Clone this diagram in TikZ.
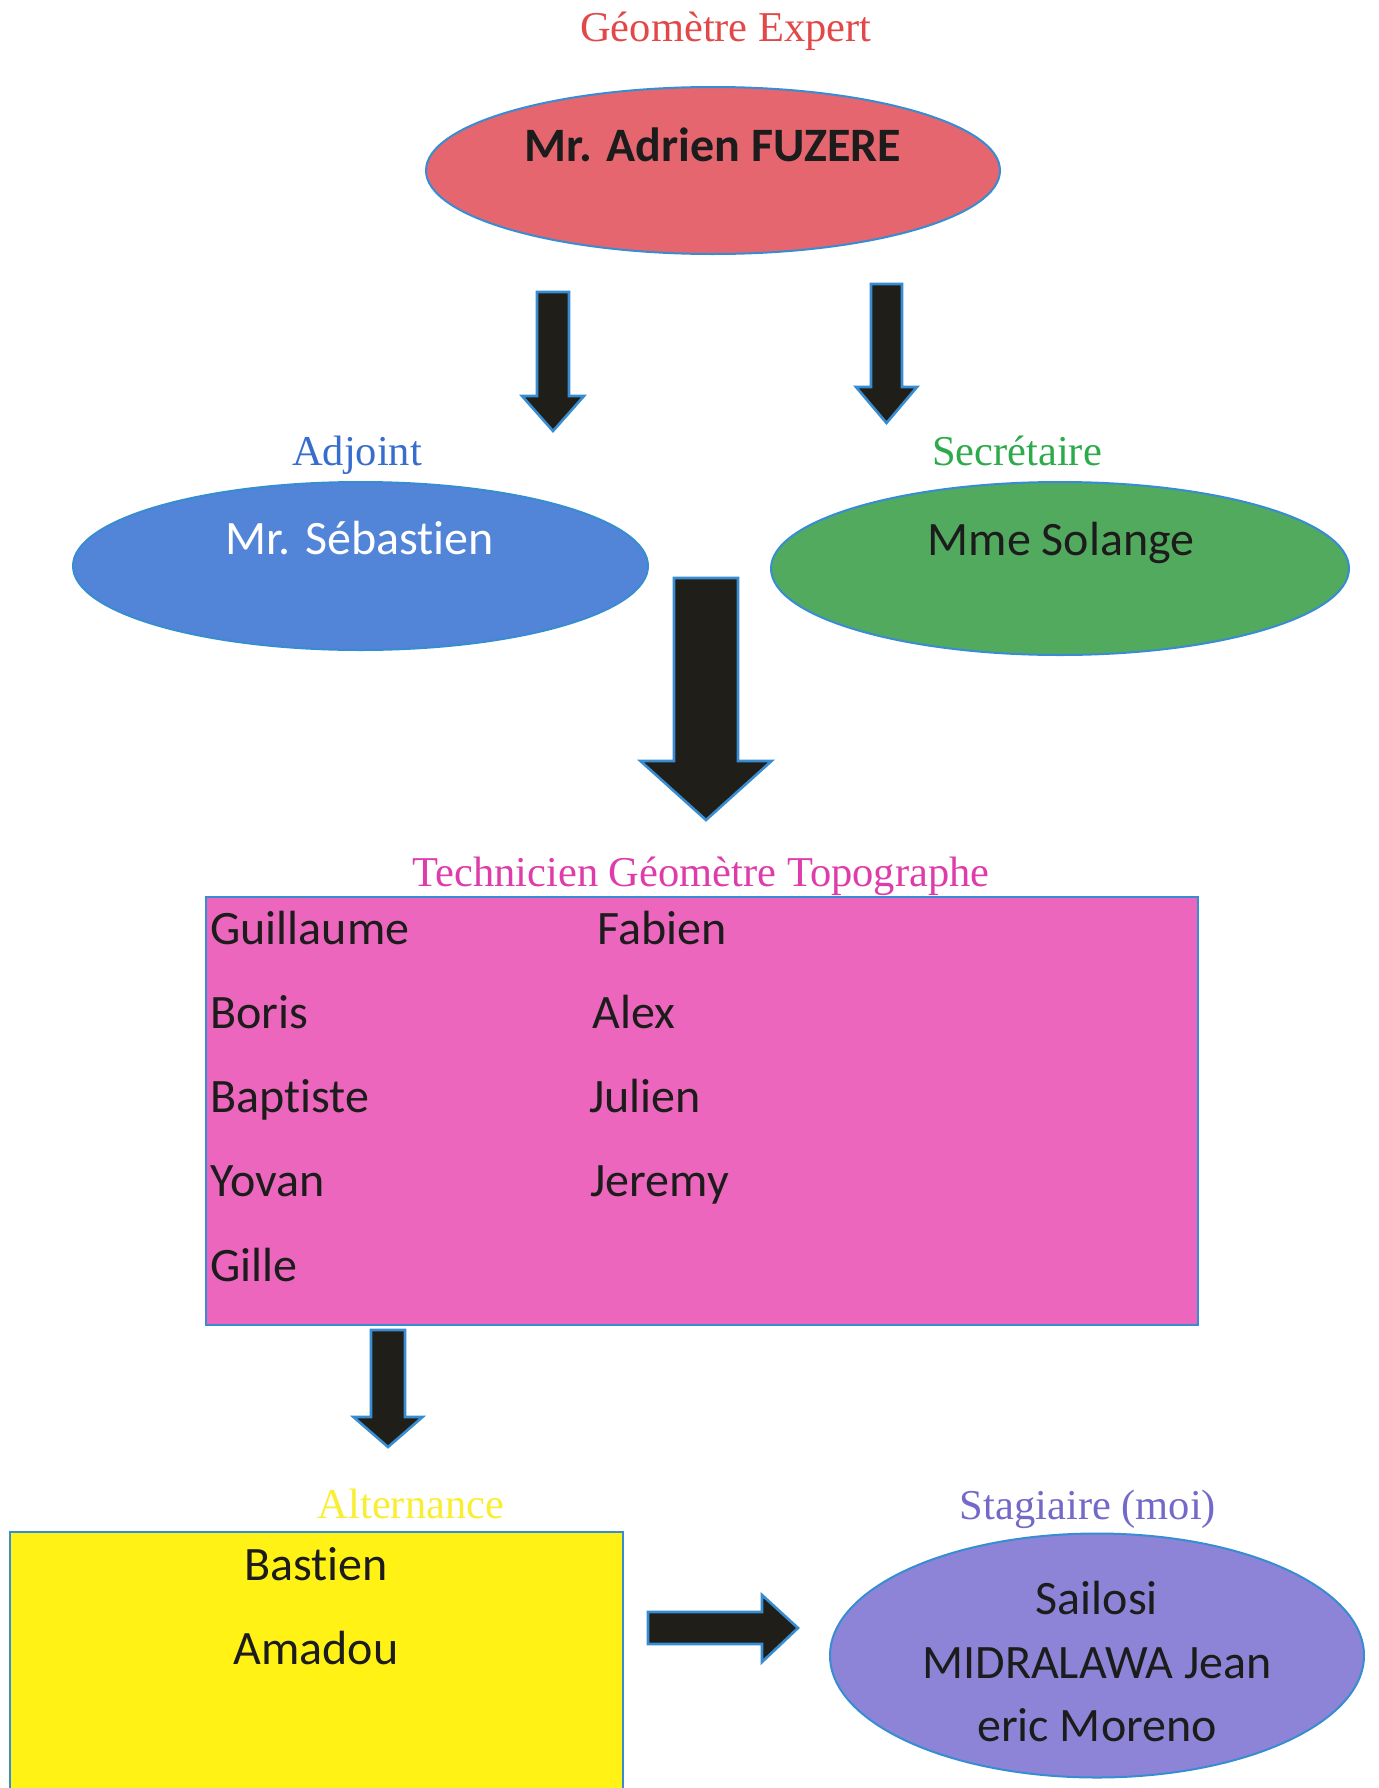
\documentclass[tikz,border=0pt]{standalone}
\usepackage{fontspec}
\setmainfont[Ligatures=NoCommon]{Carlito}
\newfontfamily\titlefont{Liberation Serif}
\usetikzlibrary{shapes.geometric}
\definecolor{tred}{RGB}{226,72,72}
\definecolor{tblue}{RGB}{55,110,205}
\definecolor{tgreen}{RGB}{45,170,75}
\definecolor{tmag}{RGB}{222,60,170}
\definecolor{tyel}{RGB}{250,238,50}
\definecolor{tpur}{RGB}{115,105,200}
\definecolor{redfill}{RGB}{230,102,112}
\definecolor{bluefill}{RGB}{82,132,215}
\definecolor{greenfill}{RGB}{82,170,95}
\definecolor{pinkfill}{RGB}{235,102,188}
\definecolor{yellowfill}{RGB}{255,242,20}
\definecolor{purplefill}{RGB}{142,132,215}
\definecolor{edge}{RGB}{55,140,210}
\definecolor{arrowfill}{RGB}{32,30,24}
\definecolor{ink}{RGB}{28,28,28}
\begin{document}
\begin{tikzpicture}[x=0.5pt,y=-0.5pt,
  ttl/.style={font=\titlefont\fontsize{21.25}{25}\selectfont, anchor=base, inner sep=0},
  nm/.style={font=\fontsize{24}{28}\selectfont, text=ink, anchor=base, inner sep=0},
  nmleft/.style={nm, anchor=base west},
  oval/.style={ellipse, draw=edge, line width=1pt, inner sep=0},
  box/.style={rectangle, draw=edge, line width=1pt, inner sep=0},
  blk/.style={fill=arrowfill, draw=edge, line width=1.3pt, line join=miter}]
\path[use as bounding box] (0,0) rectangle (1378,1788);
\clip (0,0) rectangle (1378,1788);

% top
\node[ttl, text=tred] (t1) at (726,41) {Géomètre Expert};
\node[oval, fill=redfill, minimum width=287pt, minimum height=83.5pt] (boss) at (713,170.5) {};
\node[nm, font=\bfseries\fontsize{24}{28}\selectfont] (bossname) at (713,161) {Mr. Adrien FUZERE};

% arrows from boss
\draw[blk] (537,292) -- (569,292) -- (569,396) -- (584,396) -- (553,431) -- (522,396) -- (537,396) -- cycle;
\draw[blk] (871,284) -- (902,284) -- (902,387) -- (917,387) -- (886.5,423) -- (856,387) -- (871,387) -- cycle;

% second level
\node[ttl, text=tblue] (t2) at (357,465) {Adjoint};
\node[oval, fill=bluefill, minimum width=287.5pt, minimum height=84pt] (adj) at (360.5,566) {};
\node[nm, text=white] (adjname) at (360,554) {Mr. Sébastien};

\node[ttl, text=tgreen] (t3) at (1017,465) {Secrétaire};
\node[oval, fill=greenfill, minimum width=289pt, minimum height=86.5pt] (sec) at (1060,568.5) {};
\node[nm] (secname) at (1061,555) {Mme Solange};

% big arrow
\draw[blk] (674,578) -- (738,578) -- (738,761) -- (771.5,761) -- (706,820) -- (640.5,761) -- (674,761) -- cycle;

% technicians
\node[ttl, text=tmag] (t4) at (701,886) {Technicien Géomètre Topographe};
\node[box, fill=pinkfill, minimum width=496pt, minimum height=214pt] (tech) at (702,1111) {};
\node[nmleft] (n1) at (210,944) {Guillaume};
\node[nmleft] (n2) at (210,1028.25) {Boris};
\node[nmleft] (n3) at (210,1112.5) {Baptiste};
\node[nmleft] (n4) at (210,1196.75) {Yovan};
\node[nmleft] (n5) at (210,1281) {Gille};
\node[nmleft] (m1) at (597,944) {Fabien};
\node[nmleft] (m2) at (592,1028.25) {Alex};
\node[nmleft] (m3) at (589,1112.5) {Julien};
\node[nmleft] (m4) at (590,1196.75) {Jeremy};

% small arrow
\draw[blk] (371,1330) -- (405,1330) -- (405,1417) -- (422.5,1417) -- (388,1447) -- (353.5,1417) -- (371,1417) -- cycle;

% alternance
\node[ttl, text=tyel] (t5) at (411,1518) {Alternance};
\node[box, fill=yellowfill, minimum width=306.5pt, minimum height=149pt] (alt) at (316.5,1681) {};
\node[nm] (a1) at (316,1580) {Bastien};
\node[nm] (a2) at (316,1664) {Amadou};

% right arrow
\draw[blk] (648,1612) -- (762,1612) -- (762,1595) -- (798,1628) -- (762,1662) -- (762,1644) -- (648,1644) -- cycle;

% stagiaire
\node[ttl, text=tpur] (t6) at (1088,1519) {Stagiaire (moi)};
\node[oval, fill=purplefill, minimum width=267pt, minimum height=122pt] (stag) at (1097,1655.5) {};
\node[nm] (s1) at (1097,1614) {Sailosi};
\node[nm] (s2) at (1097,1678) {MIDRALAWA Jean};
\node[nm] (s3) at (1097,1741) {eric Moreno};
\end{tikzpicture}
\end{document}
